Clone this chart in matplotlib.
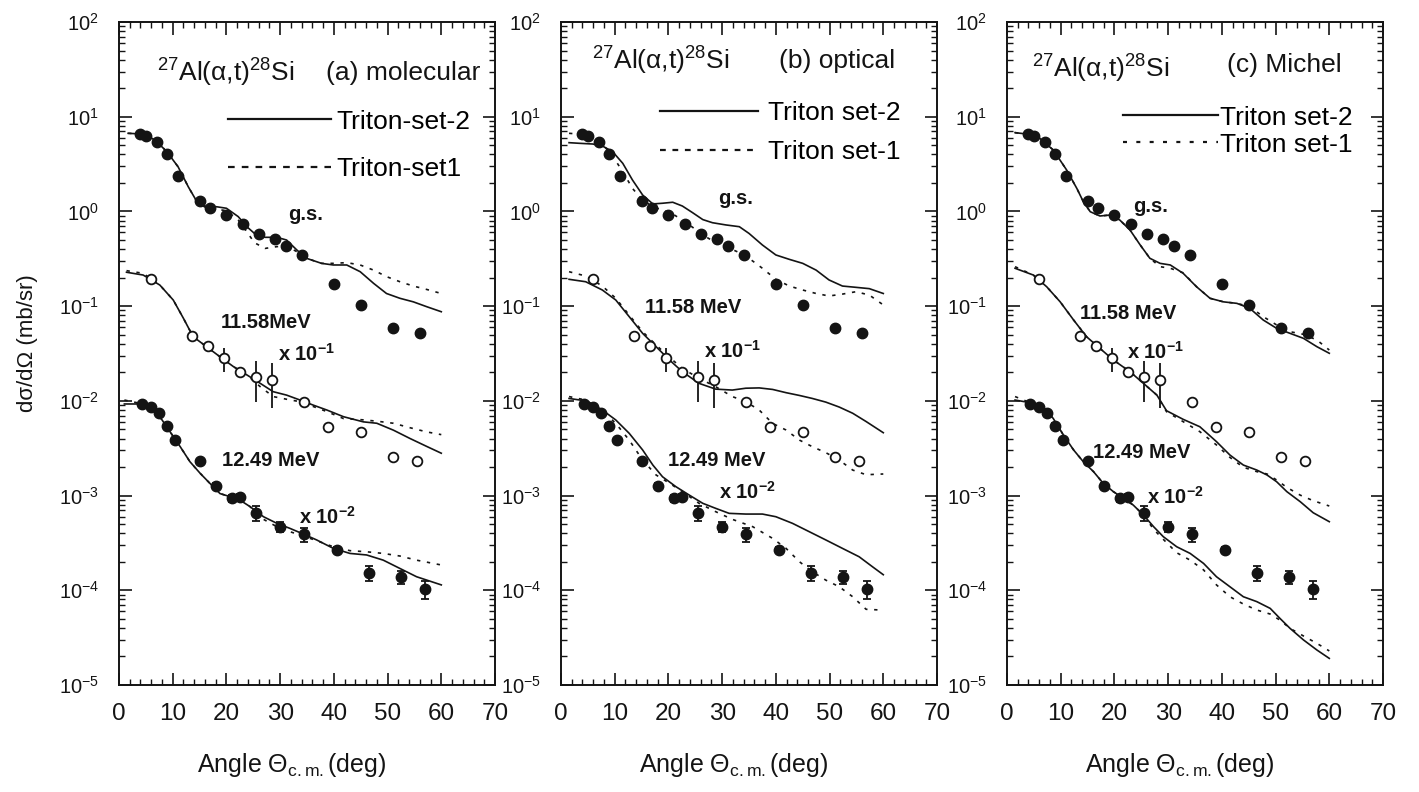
import numpy as np
import matplotlib
matplotlib.use("Agg")
import matplotlib.pyplot as plt
from matplotlib.ticker import LogLocator, NullFormatter, MultipleLocator
from matplotlib.lines import Line2D

plt.rcParams['font.family'] = ['Liberation Sans', 'DejaVu Sans']
plt.rcParams['mathtext.fontset'] = 'custom'
plt.rcParams['mathtext.rm'] = 'Liberation Sans'
plt.rcParams['mathtext.it'] = 'Liberation Sans:italic'
plt.rcParams['mathtext.bf'] = 'Liberation Sans:bold'
plt.rcParams['mathtext.default'] = 'regular'

INK = '#141414'

# ---------------- experimental cross sections (mb/sr) ----------------
GS_ANG = [4, 5, 7, 9, 11, 15, 17, 20, 23, 26, 29, 31, 34, 40, 45, 51, 56]
GS_XS = [6.5, 6.2, 5.4, 4.0, 2.38, 1.29, 1.10, 0.92, 0.74, 0.58, 0.51, 0.435,
         0.347, 0.173, 0.104, 0.0587, 0.0524]

E11_ANG = [6, 13.5, 16.5, 19.5, 22.5, 25.5, 28.5, 34.5, 39, 45, 51, 55.5]
E11_XS = [1.93, 0.488, 0.379, 0.281, 0.203, 0.180, 0.166, 0.0966, 0.0533,
          0.0472, 0.0257, 0.0232]
E11_ERR = [0, 0, 0, 0.080, 0, 0.083, 0.082, 0, 0, 0, 0.0033, 0.0030]

E12_ANG = [4.3, 6.0, 7.5, 9.0, 10.5, 15.0, 18.0, 21.0, 22.5, 25.5, 30.0, 34.5,
           40.5, 46.5, 52.5, 57.0]
E12_XS = [0.927, 0.867, 0.738, 0.547, 0.386, 0.232, 0.126, 0.0935, 0.0958,
          0.0659, 0.0469, 0.0393, 0.0266, 0.0153, 0.0137, 0.0102]
E12_ERR = [0, 0, 0, 0.038, 0, 0, 0.0087, 0.0086, 0.0088, 0.0121, 0.0054,
           0.0067, 0.0018, 0.0028, 0.0021, 0.0022]

# plotting multipliers for the excited states
SCALE_GS = 1.0
SCALE_E11 = 1e-1
SCALE_E12 = 1e-2

# ---------------- (a) molecular potential ----------------
A_GS_ANG = [1.7, 4.5, 6.7, 8.9, 11.0, 12.9, 14.5, 16.3, 18.2, 20.0, 22.2, 23.8, 25.2, 27.2,
            29.4, 31.2, 33.1, 34.9, 37.7, 39.9, 42.4, 44.9, 47.4, 49.8, 52.3, 54.8, 57.3, 60.0]
A_GS_SET2 = [6.68, 6.56, 5.68, 4.28, 2.96, 1.82, 1.27, 1.12, 1.12, 1.08, 0.881, 0.690, 0.587,
             0.533, 0.533, 0.499, 0.392, 0.320, 0.283, 0.272, 0.272, 0.231, 0.174, 0.136,
             0.121, 0.111, 0.0986, 0.0873]
A_GS_SET1 = [6.68, 6.56, 5.68, 4.28, 2.96, 1.82, 1.27, 1.08, 1.05, 1.02, 0.81, 0.61, 0.468,
             0.407, 0.425, 0.431, 0.376, 0.320, 0.283, 0.283, 0.288, 0.272, 0.240, 0.205,
             0.181, 0.163, 0.150, 0.136]

A_E11_ANG = [1.4, 4.5, 7.6, 10.1, 12.0, 13.8, 16.3, 18.8, 21.3, 23.8, 26.3, 28.7, 31.2, 33.7,
             36.2, 38.7, 41.8, 45.5, 48.0, 51.1, 54.2, 57.3, 60.0]
A_E11_SET2 = [2.28, 2.13, 1.67, 1.16, 0.743, 0.476, 0.373, 0.292, 0.230, 0.188, 0.153, 0.125,
              0.115, 0.102, 0.090, 0.080, 0.068, 0.060, 0.058, 0.049, 0.040, 0.033, 0.028]
A_E11_SET1 = [2.37, 2.22, 1.67, 1.16, 0.743, 0.476, 0.373, 0.292, 0.230, 0.188, 0.141, 0.111,
              0.104, 0.098, 0.087, 0.077, 0.065, 0.063, 0.061, 0.058, 0.052, 0.047, 0.044]

A_E12_ANG = [1.0, 3.3, 5.8, 7.6, 9.5, 11.4, 13.2, 15.1, 16.9, 18.8, 20.7, 22.5, 24.4, 26.9,
             29.4, 31.8, 34.3, 36.8, 39.9, 43.0, 46.1, 49.2, 52.3, 55.4, 60.0]
A_E12_SET2 = [0.927, 0.927, 0.853, 0.681, 0.472, 0.328, 0.228, 0.172, 0.135, 0.105, 0.0973,
              0.0897, 0.0764, 0.0598, 0.0509, 0.0451, 0.0393, 0.0340, 0.0277, 0.0245, 0.0236,
              0.0208, 0.0170, 0.0139, 0.0114]
A_E12_SET1 = [1.02, 0.957, 0.853, 0.681, 0.472, 0.328, 0.228, 0.172, 0.135, 0.105, 0.0973,
              0.0897, 0.0764, 0.0561, 0.0469, 0.0416, 0.0374, 0.0334, 0.0288, 0.0262, 0.0255,
              0.0245, 0.0230, 0.0208, 0.0185]

# ---------------- (b) optical potential ----------------
B_GS_ANG = [1.5, 3.4, 5.9, 7.7, 9.6, 11.5, 13.3, 15.2, 17.1, 18.9, 20.8, 22.6, 24.5, 26.4,
            28.2, 30.7, 33.2, 35.0, 37.5, 40.0, 42.5, 45.0, 47.5, 49.9, 52.4, 54.9, 57.4, 60.0]
B_GS_SET2 = [5.32, 5.24, 5.15, 4.91, 4.28, 3.22, 2.15, 1.49, 1.20, 1.22, 1.25, 1.14, 0.97,
             0.82, 0.76, 0.72, 0.69, 0.586, 0.442, 0.347, 0.312, 0.283, 0.240, 0.189, 0.163,
             0.158, 0.153, 0.136]
B_GS_SET1 = [6.68, 6.56, 5.91, 5.15, 3.85, 2.63, 1.75, 1.32, 1.12, 1.035, 0.94, 0.81, 0.68,
             0.564, 0.491, 0.425, 0.367, 0.320, 0.251, 0.192, 0.163, 0.148, 0.136, 0.128,
             0.134, 0.142, 0.131, 0.103]

B_E11_ANG = [1.5, 4.6, 7.7, 10.2, 12.7, 15.2, 17.7, 20.2, 22.6, 25.7, 28.8, 31.9, 34.4, 36.9,
             39.4, 41.9, 44.4, 46.8, 49.3, 51.8, 54.3, 56.8, 60.0]
B_E11_SET2 = [1.92, 1.81, 1.48, 1.16, 0.774, 0.516, 0.373, 0.270, 0.203, 0.153, 0.133, 0.130,
              0.136, 0.137, 0.132, 0.122, 0.114, 0.106, 0.097, 0.086, 0.074, 0.0605, 0.0461]
B_E11_SET1 = [2.31, 2.08, 1.63, 1.21, 0.805, 0.537, 0.389, 0.288, 0.220, 0.173, 0.141, 0.111,
              0.098, 0.080, 0.0578, 0.0492, 0.0385, 0.0328, 0.0284, 0.0237, 0.0186, 0.0166,
              0.0169]

B_E12_ANG2 = [1.5, 4.6, 7.7, 10.2, 12.7, 15.2, 17.1, 18.9, 21.4, 23.9, 26.4, 28.8, 31.3, 34.4,
              37.5, 40.0, 43.1, 46.2, 49.3, 52.4, 55.5, 58.0, 60.0]
B_E12_SET2 = [1.06, 1.00, 0.800, 0.628, 0.454, 0.303, 0.210, 0.158, 0.124, 0.101, 0.0828,
              0.0733, 0.0649, 0.0638, 0.0638, 0.0598, 0.0509, 0.0416, 0.0340, 0.0277, 0.0226,
              0.0177, 0.0146]
B_E12_ANG1 = [1.5, 4.6, 7.7, 10.2, 12.7, 15.2, 17.7, 20.2, 22.6, 25.7, 28.8, 31.9, 35.7, 39.4,
              41.9, 44.4, 46.8, 49.3, 51.8, 54.3, 56.8, 59.5]
B_E12_SET1 = [1.11, 1.02, 0.787, 0.578, 0.385, 0.237, 0.165, 0.135, 0.110, 0.0828, 0.0676,
              0.0561, 0.0469, 0.0353, 0.0277, 0.0200, 0.0157, 0.0128, 0.0109, 0.00855,
              0.00630, 0.00619]

# ---------------- (c) Michel potential ----------------
C_GS_ANG = [1.5, 3.7, 6.1, 8.6, 11.1, 13.0, 14.2, 15.5, 17.3, 19.2, 21.0, 22.9, 24.8, 26.6,
            28.5, 30.4, 32.8, 35.3, 37.8, 40.3, 42.8, 45.2, 47.7, 50.2, 52.7, 55.2, 57.7, 60.0]
C_GS_SET2 = [6.79, 6.56, 5.91, 4.46, 2.74, 1.75, 1.27, 0.993, 0.895, 0.916, 0.811, 0.637,
             0.442, 0.320, 0.283, 0.272, 0.222, 0.160, 0.121, 0.111, 0.107, 0.0948, 0.0714,
             0.0583, 0.0516, 0.0457, 0.0373, 0.0318]
C_GS_SET1 = [6.79, 6.56, 5.91, 4.46, 2.74, 1.75, 1.27, 0.993, 0.895, 0.916, 0.811, 0.637,
             0.442, 0.320, 0.261, 0.251, 0.225, 0.160, 0.121, 0.111, 0.107, 0.0986, 0.0775,
             0.0633, 0.0537, 0.0504, 0.0439, 0.0344]

C_E11_ANG = [1.5, 4.9, 7.4, 9.9, 12.4, 14.8, 17.3, 19.8, 22.9, 25.4, 27.9, 29.7, 32.8, 35.9,
             39.0, 41.5, 44.0, 46.5, 48.4, 50.2, 52.1, 54.6, 57.0, 60.0]
C_E11_SET2 = [2.51, 2.13, 1.60, 1.11, 0.714, 0.476, 0.358, 0.270, 0.203, 0.153, 0.115, 0.0787,
              0.0638, 0.0533, 0.0371, 0.0268, 0.0210, 0.0186, 0.0165, 0.0140, 0.0110, 0.00861,
              0.00659, 0.00530]
C_E11_SET1 = [2.61, 2.13, 1.60, 1.11, 0.714, 0.476, 0.358, 0.270, 0.203, 0.153, 0.115, 0.0769,
              0.0603, 0.0473, 0.0342, 0.0253, 0.0199, 0.0179, 0.0169, 0.0146, 0.0122, 0.0101,
              0.00883, 0.00776]

C_E12_ANG = [1.5, 4.3, 6.8, 8.6, 10.5, 12.4, 14.2, 16.1, 17.9, 19.8, 21.7, 23.5, 25.4, 27.3,
             29.1, 31.6, 34.1, 36.6, 39.0, 41.5, 44.0, 46.5, 49.0, 50.8, 52.7, 55.2, 57.7, 60.0]
C_E12_SET2 = [1.02, 0.957, 0.853, 0.653, 0.436, 0.303, 0.228, 0.179, 0.135, 0.110, 0.0935,
              0.0794, 0.0624, 0.0469, 0.0368, 0.0288, 0.0245, 0.0192, 0.0139, 0.0109, 0.00855,
              0.00759, 0.00644, 0.00506, 0.00396, 0.00299, 0.00234, 0.00191]
C_E12_SET1 = [1.11, 0.957, 0.853, 0.653, 0.436, 0.303, 0.228, 0.179, 0.135, 0.110, 0.0935,
              0.0794, 0.0624, 0.0440, 0.0345, 0.0249, 0.0208, 0.0164, 0.0114, 0.00855, 0.00716,
              0.00619, 0.00561, 0.00485, 0.00396, 0.00329, 0.00275, 0.00229]

X_TICKS = [0, 10, 20, 30, 40, 50, 60, 70]

panels = [
    dict(left=119, tag='(a) molecular',
         leg=['Triton-set-2', 'Triton-set1'],
         e11_text='11.58MeV',
         curves=[(A_GS_ANG, A_GS_SET2, A_GS_ANG, A_GS_SET1, SCALE_GS),
                 (A_E11_ANG, A_E11_SET2, A_E11_ANG, A_E11_SET1, SCALE_E11),
                 (A_E12_ANG, A_E12_SET2, A_E12_ANG, A_E12_SET1, SCALE_E12)],
         title_xy=(0.101, 0.9095), tag_xy=(0.960, 0.9125),
         leg_xy=(0.29, 0.868), leg_space=0.90, leg_pad=0.19, leg_len=3.9,
         leg_dash=(0, (3.0, 3.2)),
         gs_xy=(0.495, 0.710), e11_xy=(0.391, 0.5475), m1_xy=(0.50, 0.499),
         e12_xy=(0.404, 0.338), m2_xy=(0.553, 0.2534)),
    dict(left=561, tag='(b) optical',
         leg=['Triton set-2', 'Triton set-1'],
         e11_text='11.58 MeV',
         curves=[(B_GS_ANG, B_GS_SET2, B_GS_ANG, B_GS_SET1, SCALE_GS),
                 (B_E11_ANG, B_E11_SET2, B_E11_ANG, B_E11_SET1, SCALE_E11),
                 (B_E12_ANG2, B_E12_SET2, B_E12_ANG1, B_E12_SET1, SCALE_E12)],
         title_xy=(0.082, 0.928), tag_xy=(0.888, 0.931),
         leg_xy=(0.263, 0.881), leg_space=0.57, leg_pad=0.40, leg_len=3.7,
         leg_dash=(0, (2.6, 3.0)),
         gs_xy=(0.463, 0.7345), e11_xy=(0.351, 0.570), m1_xy=(0.455, 0.504),
         e12_xy=(0.415, 0.338), m2_xy=(0.497, 0.291)),
    dict(left=1007, tag='(c) Michel',
         leg=['Triton set-2', 'Triton set-1'],
         e11_text='11.58 MeV',
         curves=[(C_GS_ANG, C_GS_SET2, C_GS_ANG, C_GS_SET1, SCALE_GS),
                 (C_E11_ANG, C_E11_SET2, C_E11_ANG, C_E11_SET1, SCALE_E11),
                 (C_E12_ANG, C_E12_SET2, C_E12_ANG, C_E12_SET1, SCALE_E12)],
         title_xy=(0.0657, 0.9155), tag_xy=(0.890, 0.9246),
         leg_xy=(0.309, 0.874), leg_space=0.12, leg_pad=0.05, leg_len=3.6,
         leg_dash=(0, (1.8, 4.2)),
         gs_xy=(0.383, 0.721), e11_xy=(0.322, 0.561), m1_xy=(0.394, 0.502),
         e12_xy=(0.359, 0.350), m2_xy=(0.449, 0.2836)),
]

W, H = 1419, 792
fig = plt.figure(figsize=(W / 100, H / 100), dpi=100)
fig.patch.set_facecolor('white')

AX_W, AX_TOP, AX_BOT = 376, 22, 685
DOT = (0, (2.0, 4.0))

for i, p in enumerate(panels):
    ax = fig.add_axes([p['left'] / W, (H - AX_BOT) / H, AX_W / W, (AX_BOT - AX_TOP) / H])
    ax.set_yscale('log')
    ax.set_xlim(0, 70)
    ax.set_ylim(1e-5, 1e2)

    for ang2, set2, ang1, set1, scale in p['curves']:
        ax.plot(ang2, np.asarray(set2) * scale, color=INK, lw=1.2, zorder=2)
        ax.plot(ang1, np.asarray(set1) * scale, color=INK, lw=1.2, ls=DOT, zorder=2)

    ax.plot(GS_ANG, np.asarray(GS_XS) * SCALE_GS, 'o', ms=7.5, color=INK, zorder=4)
    ax.errorbar(E11_ANG, np.asarray(E11_XS) * SCALE_E11,
                yerr=np.asarray(E11_ERR) * SCALE_E11, fmt='o', ms=7, mfc='white',
                mec=INK, mew=1.3, ecolor=INK, elinewidth=1.3, capsize=0, zorder=4)
    ax.errorbar(E12_ANG, np.asarray(E12_XS) * SCALE_E12,
                yerr=np.asarray(E12_ERR) * SCALE_E12, fmt='o', ms=7.5, color=INK,
                ecolor=INK, elinewidth=1.3, capsize=2.8, capthick=1.3, zorder=4)

    # axes frame and ticks
    for s in ax.spines.values():
        s.set_linewidth(1.4)
        s.set_color(INK)
    ax.set_xticks(X_TICKS)
    ax.xaxis.set_minor_locator(MultipleLocator(2))
    ax.yaxis.set_major_locator(LogLocator(base=10, numticks=20))
    ax.yaxis.set_minor_locator(LogLocator(base=10, subs=np.arange(2, 10) * 1.0, numticks=200))
    ax.yaxis.set_minor_formatter(NullFormatter())
    ax.tick_params(which='both', direction='in', top=True, right=True, colors=INK)
    ax.tick_params(which='major', length=9, width=1.2)
    ax.tick_params(which='minor', length=4.5, width=1.0)
    ax.tick_params(axis='x', which='major', pad=13, labelsize=17.5)
    ax.tick_params(axis='y', which='major', pad=14.5, labelsize=14.5)

    ax.set_xlabel('Angle \u0398$_{\\mathrm{c{.}m{.}}}$(deg)', fontsize=18, color=INK)
    ax.xaxis.set_label_coords(0.46, -0.100)
    if i == 0:
        ax.set_ylabel('d\u03c3/d\u03a9 (mb/sr)', fontsize=16, color=INK)
        ax.yaxis.set_label_coords(-0.215, 0.515)

    # in-panel annotations
    ax.text(*p['title_xy'], '$^{27}$Al(\u03b1,t)$^{28}$Si', transform=ax.transAxes,
            fontsize=19, ha='left', va='baseline', color=INK)
    ax.text(*p['tag_xy'], p['tag'], transform=ax.transAxes, fontsize=19,
            ha='right', va='baseline', color=INK)

    bold = dict(transform=ax.transAxes, fontsize=14.5, fontweight='bold',
                ha='center', va='center', color=INK)
    ax.text(*p['gs_xy'], 'g.s.', **bold)
    ax.text(*p['e11_xy'], p['e11_text'], **bold)
    ax.text(*p['m1_xy'], 'x 10$^{\\mathbf{-1}}$', **bold)
    ax.text(*p['e12_xy'], '12.49 MeV', **bold)
    ax.text(*p['m2_xy'], 'x 10$^{\\mathbf{-2}}$', **bold)

    handles = [Line2D([], [], color=INK, lw=1.6),
               Line2D([], [], color=INK, lw=1.6, ls=p['leg_dash'])]
    ax.legend(handles, p['leg'], loc='upper left', bbox_to_anchor=p['leg_xy'],
              frameon=False, fontsize=19, handlelength=p['leg_len'],
              handletextpad=p['leg_pad'], labelspacing=p['leg_space'],
              borderpad=0, borderaxespad=0)

fig.savefig('out.png', dpi=100, facecolor='white')
